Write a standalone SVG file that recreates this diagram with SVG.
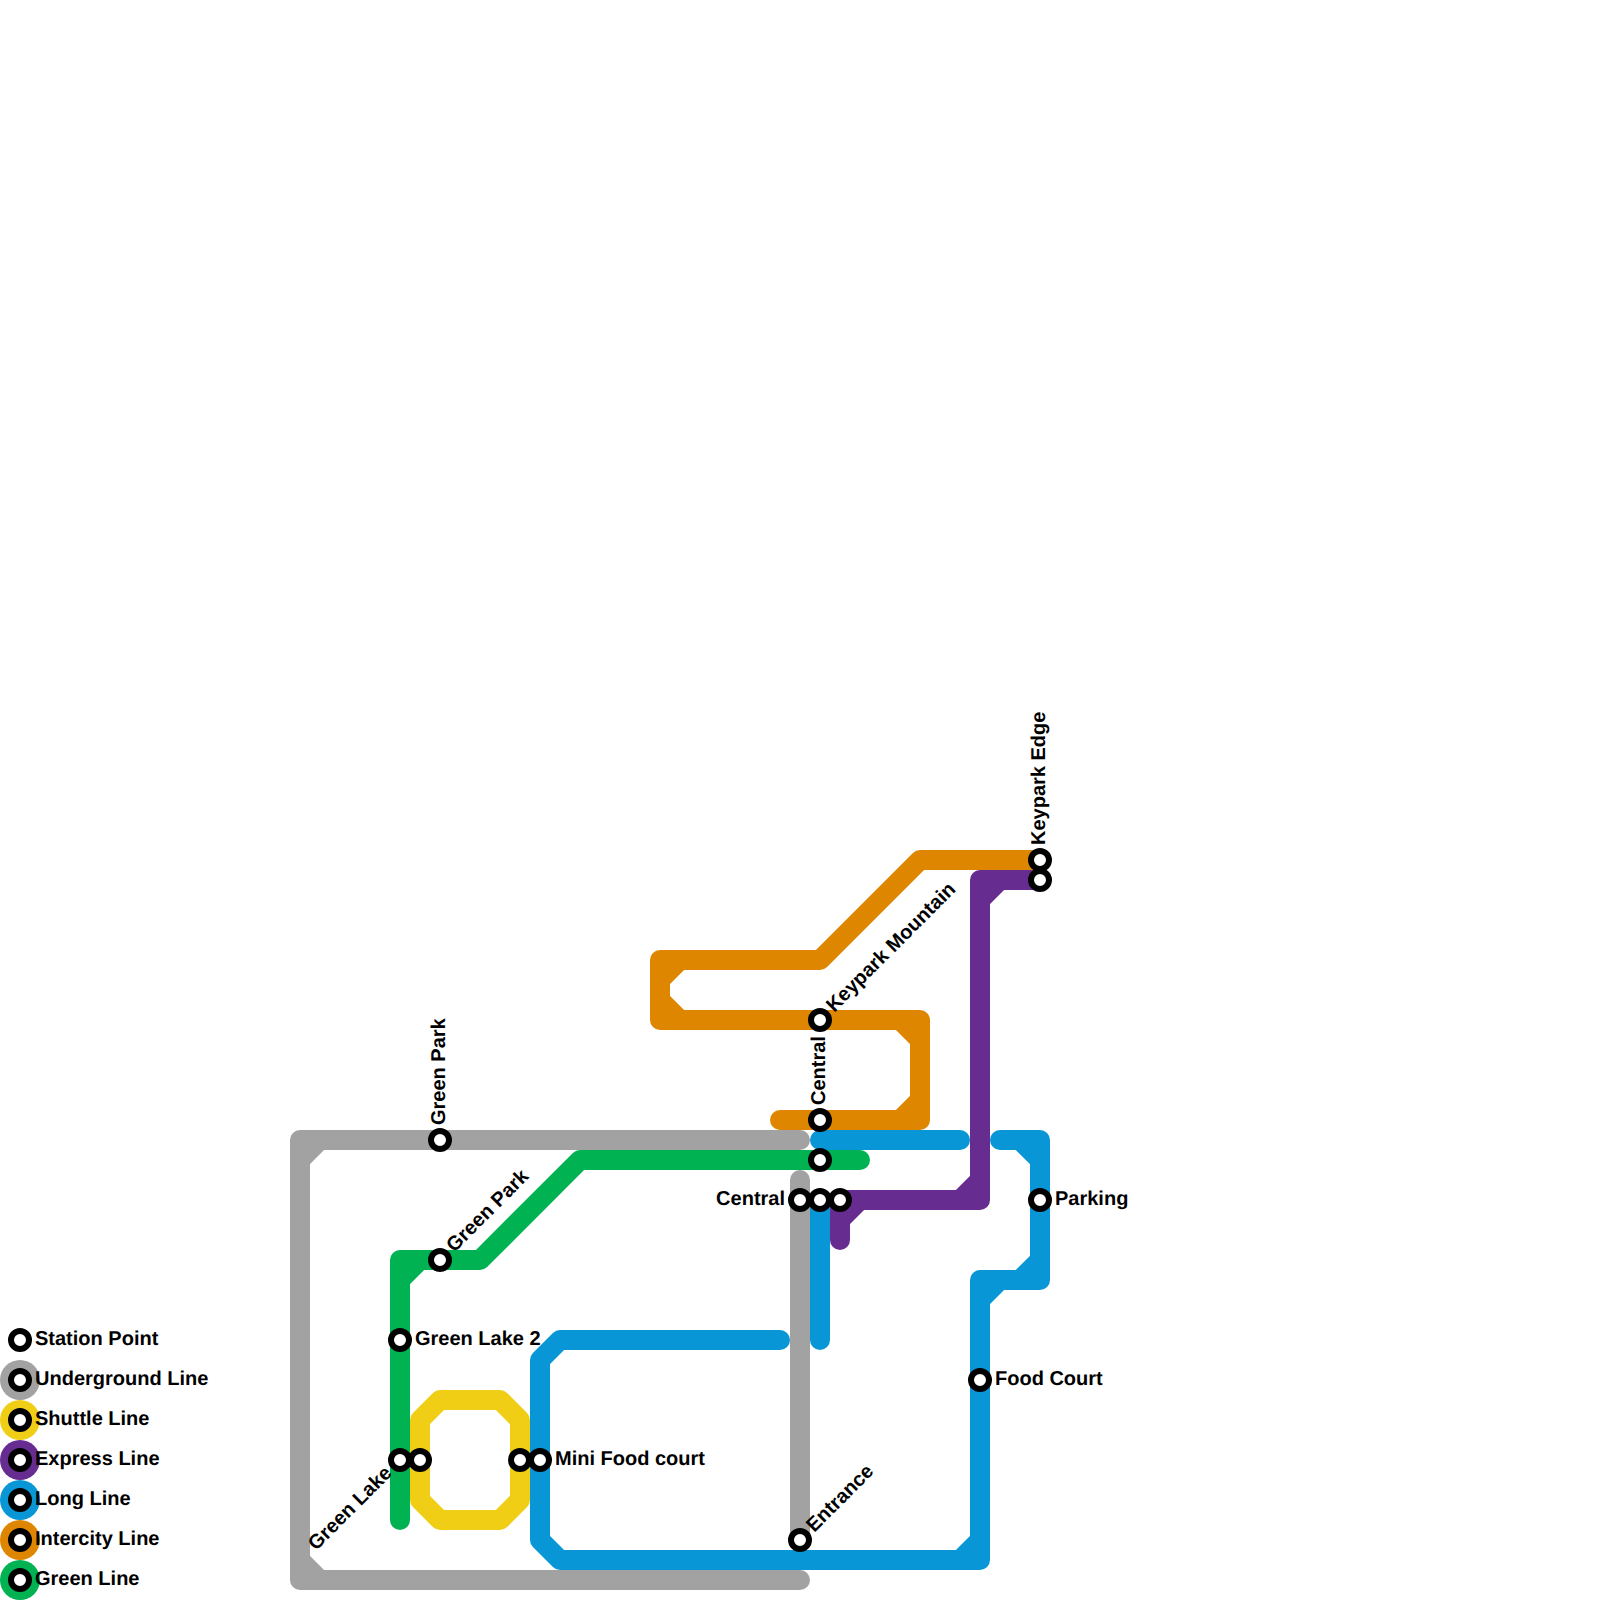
<svg xmlns="http://www.w3.org/2000/svg" width="1600" height="1600" viewBox="0 0 1600 1600">
<style>
.l{fill:none;stroke-width:20;stroke-linecap:round;stroke-linejoin:round}
.st{fill:#fff;stroke:#000;stroke-width:6}
text{font-family:"Liberation Sans",Arial,sans-serif;font-weight:700;font-size:20px;fill:#000;text-rendering:geometricPrecision}
.gray{stroke:#a2a2a2}.yellow{stroke:#f0ce15}.purple{stroke:#662c90}.blue{stroke:#0896d7}.orange{stroke:#df8600}.green{stroke:#00b251}
.dg{fill:#a2a2a2}.dy{fill:#f0ce15}.dp{fill:#662c90}.db{fill:#0896d7}.do{fill:#df8600}.dn{fill:#00b251}
</style>
<g id="connectors">
<path id="line-underground" class="l gray" d="M800 1140H300V1580H800M320 1140L300 1160M300 1560L320 1580M800 1180V1540"/>
<path id="line-shuttle" class="l yellow" d="M420 1420L440 1400H500L520 1420V1500L500 1520H440L420 1500Z"/>
<path id="line-express" class="l purple" d="M840 1240V1200H980V880H1040M840 1220L860 1200M960 1200L980 1180M980 900L1000 880"/>
<path id="line-long" class="l blue" d="M780 1340H560L540 1360V1540L560 1560H980V1280H1040V1140H1000M960 1560L980 1540M980 1300L1000 1280M1020 1280L1040 1260M1020 1140L1040 1160M820 1140H960M820 1200V1340"/>
<path id="line-intercity" class="l orange" d="M780 1120H920V1020H660V960H820L920 860H1040M900 1120L920 1100M900 1020L920 1040M680 1020L660 1000M660 980L680 960"/>
<path id="line-green" class="l green" d="M400 1520V1260H480L580 1160H860M400 1280L420 1260"/>
</g>
<g id="legend">
<g id="legend-station"><circle class="st" cx="20" cy="1340" r="9"/><text x="35" y="1345">Station Point</text></g>
<g id="legend-underground"><circle class="dg" cx="20" cy="1380" r="20"/><circle class="st" cx="20" cy="1380" r="9"/><text x="35" y="1385">Underground Line</text></g>
<g id="legend-shuttle"><circle class="dy" cx="20" cy="1420" r="20"/><circle class="st" cx="20" cy="1420" r="9"/><text x="35" y="1425">Shuttle Line</text></g>
<g id="legend-express"><circle class="dp" cx="20" cy="1460" r="20"/><circle class="st" cx="20" cy="1460" r="9"/><text x="35" y="1465">Express Line</text></g>
<g id="legend-long"><circle class="db" cx="20" cy="1500" r="20"/><circle class="st" cx="20" cy="1500" r="9"/><text x="35" y="1505">Long Line</text></g>
<g id="legend-intercity"><circle class="do" cx="20" cy="1540" r="20"/><circle class="st" cx="20" cy="1540" r="9"/><text x="35" y="1545">Intercity Line</text></g>
<g id="legend-green"><circle class="dn" cx="20" cy="1580" r="20"/><circle class="st" cx="20" cy="1580" r="9"/><text x="35" y="1585">Green Line</text></g>
</g>
<g id="stations">
<g id="st-green-park-u"><circle class="st" cx="440" cy="1140" r="9"/><text transform="rotate(-90 440 1140)" x="455" y="1145">Green Park</text></g>
<g id="st-central-u"><circle class="st" cx="800" cy="1200" r="9"/><text x="785" y="1205" text-anchor="end">Central</text></g>
<g id="st-entrance"><circle class="st" cx="800" cy="1540" r="9"/><text transform="rotate(-45 800 1540)" x="815" y="1545">Entrance</text></g>
<g id="st-green-park"><circle class="st" cx="440" cy="1260" r="9"/><text transform="rotate(-45 440 1260)" x="455" y="1265">Green Park</text></g>
<g id="st-green-lake-2"><circle class="st" cx="400" cy="1340" r="9"/><text x="415" y="1345">Green Lake 2</text></g>
<g id="st-green-lake"><circle class="st" cx="400" cy="1460" r="9"/><text transform="rotate(-45 400 1460)" x="385" y="1465" text-anchor="end">Green Lake</text></g>
<g id="st-shuttle-a"><circle class="st" cx="420" cy="1460" r="9"/></g>
<g id="st-shuttle-b"><circle class="st" cx="520" cy="1460" r="9"/></g>
<g id="st-mini-food-court"><circle class="st" cx="540" cy="1460" r="9"/><text x="555" y="1465">Mini Food court</text></g>
<g id="st-central-g"><circle class="st" cx="820" cy="1160" r="9"/></g>
<g id="st-central-l"><circle class="st" cx="820" cy="1200" r="9"/></g>
<g id="st-central-e"><circle class="st" cx="840" cy="1200" r="9"/></g>
<g id="st-central-i"><circle class="st" cx="820" cy="1120" r="9"/><text transform="rotate(-90 820 1120)" x="835" y="1125">Central</text></g>
<g id="st-keypark-mountain"><circle class="st" cx="820" cy="1020" r="9"/><text transform="rotate(-45 820 1020)" x="835" y="1025">Keypark Mountain</text></g>
<g id="st-keypark-edge"><circle class="st" cx="1040" cy="860" r="9"/><text transform="rotate(-90 1040 860)" x="1055" y="865">Keypark Edge</text></g>
<g id="st-keypark-edge-e"><circle class="st" cx="1040" cy="880" r="9"/></g>
<g id="st-parking"><circle class="st" cx="1040" cy="1200" r="9"/><text x="1055" y="1205">Parking</text></g>
<g id="st-food-court"><circle class="st" cx="980" cy="1380" r="9"/><text x="995" y="1385">Food Court</text></g>
</g>
</svg>
